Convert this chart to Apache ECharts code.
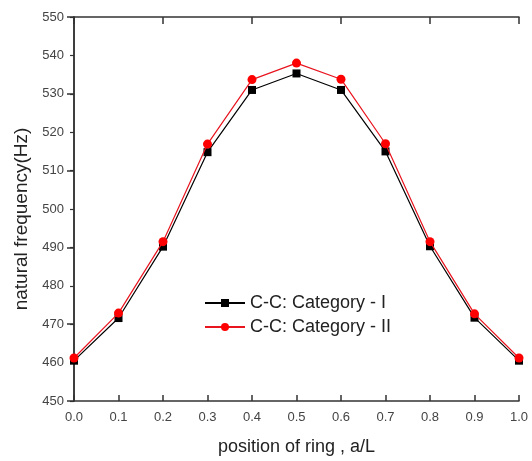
<!DOCTYPE html>
<html>
<head>
<meta charset="utf-8">
<script src="https://cdn.jsdelivr.net/npm/echarts@6/dist/echarts.min.js"></script>
<style>
html,body{margin:0;padding:0;background:#fff;}
#chart{width:532px;height:461px;}
</style>
</head>
<body>
<div id="chart"></div>
<script>
var positions = [0.0, 0.1, 0.2, 0.3, 0.4, 0.5, 0.6, 0.7, 0.8, 0.9, 1.0];
var categoryI = [460.5, 471.6, 490.2, 514.8, 531.0, 535.3, 531.0, 515.0, 490.3, 471.7, 460.5];
var categoryII = [461.2, 472.9, 491.5, 516.9, 533.7, 538.0, 533.8, 517.0, 491.5, 472.7, 461.2];
var seriesNames = ['C-C: Category - I', 'C-C: Category - II'];

function pairs(vals) { return positions.map(function (x, i) { return [x, vals[i]]; }); }

var font = 'Liberation Sans, Arial, sans-serif';
var frame = '#333333';
var chart = echarts.init(document.getElementById('chart'));
chart.setOption({
  animation: false,
  backgroundColor: '#ffffff',
  grid: { left: 74, right: 13, top: 17, bottom: 59, show: false },
  legend: {
    orient: 'vertical', left: 199, top: 289, itemGap: 6,
    itemWidth: 40, itemHeight: 10,
    textStyle: { fontFamily: font, fontSize: 18, color: '#222' },
    data: seriesNames
  },
  xAxis: [{
    type: 'value', min: 0, max: 1, interval: 0.1, position: 'bottom',
    name: 'position of ring , a/L', nameLocation: 'middle', nameGap: 37,
    nameTextStyle: { fontFamily: font, fontSize: 18, color: '#222' },
    axisLine: { show: true, lineStyle: { color: frame, width: 1.5 } },
    axisTick: { show: true, inside: true, length: 6, lineStyle: { color: frame, width: 1.5 } },
    axisLabel: { fontFamily: font, fontSize: 13, color: '#444', margin: 10,
      formatter: function (v) { return v.toFixed(1); } },
    splitLine: { show: false }
  }, {
    type: 'value', min: 0, max: 1, interval: 0.2, position: 'top',
    axisLine: { show: true, lineStyle: { color: frame, width: 1.5 } },
    axisTick: { show: true, inside: true, length: 7, lineStyle: { color: frame, width: 1.5 } },
    axisLabel: { show: false }, splitLine: { show: false }
  }],
  yAxis: [{
    type: 'value', min: 450, max: 550, interval: 10, position: 'left',
    name: 'natural frequency(Hz)', nameLocation: 'middle', nameGap: 43,
    nameTextStyle: { fontFamily: font, fontSize: 19, color: '#222', padding: [0, 20, 0, 0] },
    axisLine: { show: true, lineStyle: { color: frame, width: 1.5 } },
    axisTick: { show: true, inside: false, length: 4, lineStyle: { color: frame, width: 1.2 } },
    axisLabel: { fontFamily: font, fontSize: 13, color: '#444', margin: 10 },
    splitLine: { show: false }
  }, {
    type: 'value', min: 450, max: 550, interval: 20, position: 'right',
    axisLine: { show: true, lineStyle: { color: frame, width: 1.5 } },
    axisTick: { show: true, inside: true, length: 7, lineStyle: { color: frame, width: 1.5 } },
    axisLabel: { show: false }, splitLine: { show: false }
  }],
  series: [{
    name: seriesNames[0], type: 'line', xAxisIndex: 0, yAxisIndex: 0,
    data: pairs(categoryI), symbol: 'rect', symbolSize: 8,
    lineStyle: { color: '#000', width: 1.2 }, itemStyle: { color: '#000' }, z: 2
  }, {
    name: seriesNames[1], type: 'line', xAxisIndex: 0, yAxisIndex: 0,
    data: pairs(categoryII), symbol: 'circle', symbolSize: 9,
    lineStyle: { color: '#e8141e', width: 1.2 }, itemStyle: { color: '#ff0000' }, z: 3
  }]
});
</script>
</body>
</html>
